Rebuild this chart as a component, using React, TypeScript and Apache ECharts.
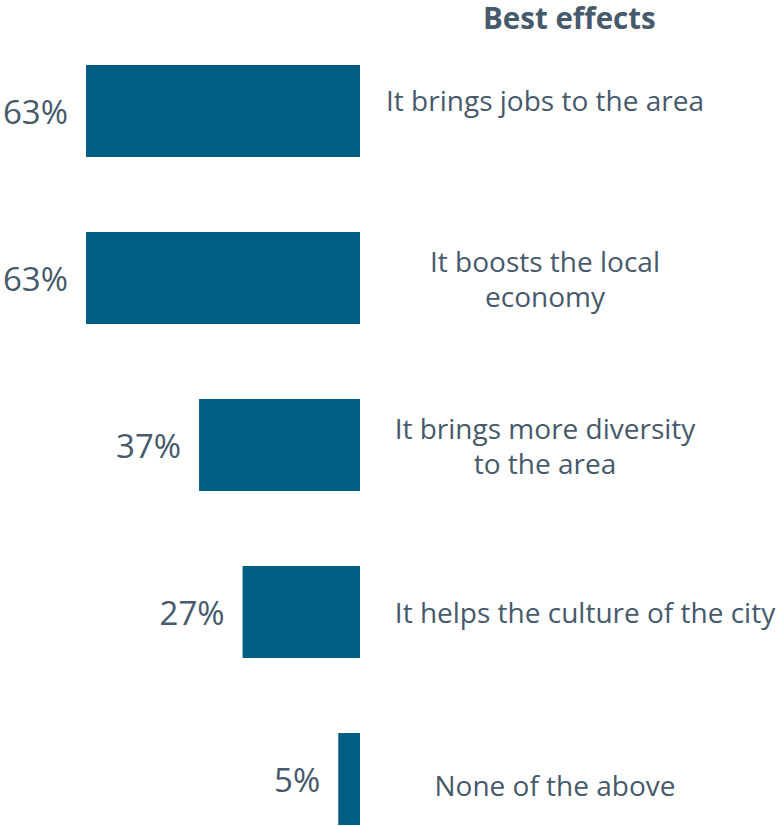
import React, { useEffect, useRef } from "react";
import * as echarts from "echarts";

const categories = [
  "It brings jobs to the area",
  "It boosts the local\neconomy",
  "It brings more diversity\nto the area",
  "It helps the culture of the city",
  "None of the above",
];
const values = [63, 63, 37, 27, 5];
const titleText = "Best effects";

const TEXT = "#465a6b";
const BAR = "#005e82";
const FONT = "'Open Sans', Roboto, sans-serif";

const labelPadLeft = [0, 0, 0, 80, 20];
const labelVAlign = ["bottom", "middle", "middle", "middle", "top"];
const labelLineH = [22, 35, 35, 35, 12];

export default function App() {
  const ref = useRef<HTMLDivElement>(null);
  useEffect(() => {
    const chart = echarts.init(ref.current!, null, { renderer: "svg" });
    chart.setOption({
      animation: false,
      title: {
        text: titleText,
        left: 483,
        top: 1,
        padding: 0,
        textStyle: {
          fontFamily: FONT,
          fontSize: 29.5,
          lineHeight: 32,
          fontWeight: "bold",
          color: TEXT,
        },
      },
      grid: {
        left: 86,
        right: 417,
        top: 27.5,
        height: 835,
        containLabel: false,
        outerBoundsMode: "none",
      },
      xAxis: {
        type: "value",
        inverse: true,
        min: 0,
        max: 63,
        show: false,
      },
      yAxis: {
        type: "category",
        inverse: true,
        position: "right",
        data: categories.map((c, i) => ({
          value: c,
          textStyle: {
            padding: [0, 0, 0, labelPadLeft[i]],
            align: "center",
            verticalAlign: labelVAlign[i],
            fontFamily: FONT,
            fontSize: 28,
            lineHeight: labelLineH[i],
            color: TEXT,
          },
        })),
        axisLine: { show: false },
        axisTick: { show: false },
        axisLabel: {
          margin: 185,
          align: "center",
          fontFamily: FONT,
          fontSize: 28,
          lineHeight: 35,
          color: TEXT,
        },
      },
      series: [
        {
          type: "bar",
          data: values,
          barWidth: 92,
          itemStyle: { color: BAR },
          label: {
            show: true,
            position: "left",
            distance: 18,
            formatter: "{c}%",
            fontFamily: FONT,
            fontSize: 33,
            color: TEXT,
          },
        },
      ],
    });
    return () => chart.dispose();
  }, []);
  return (
    <div
      ref={ref}
      style={{ width: 777, height: 826, position: "absolute", left: 0, top: 0 }}
    />
  );
}
